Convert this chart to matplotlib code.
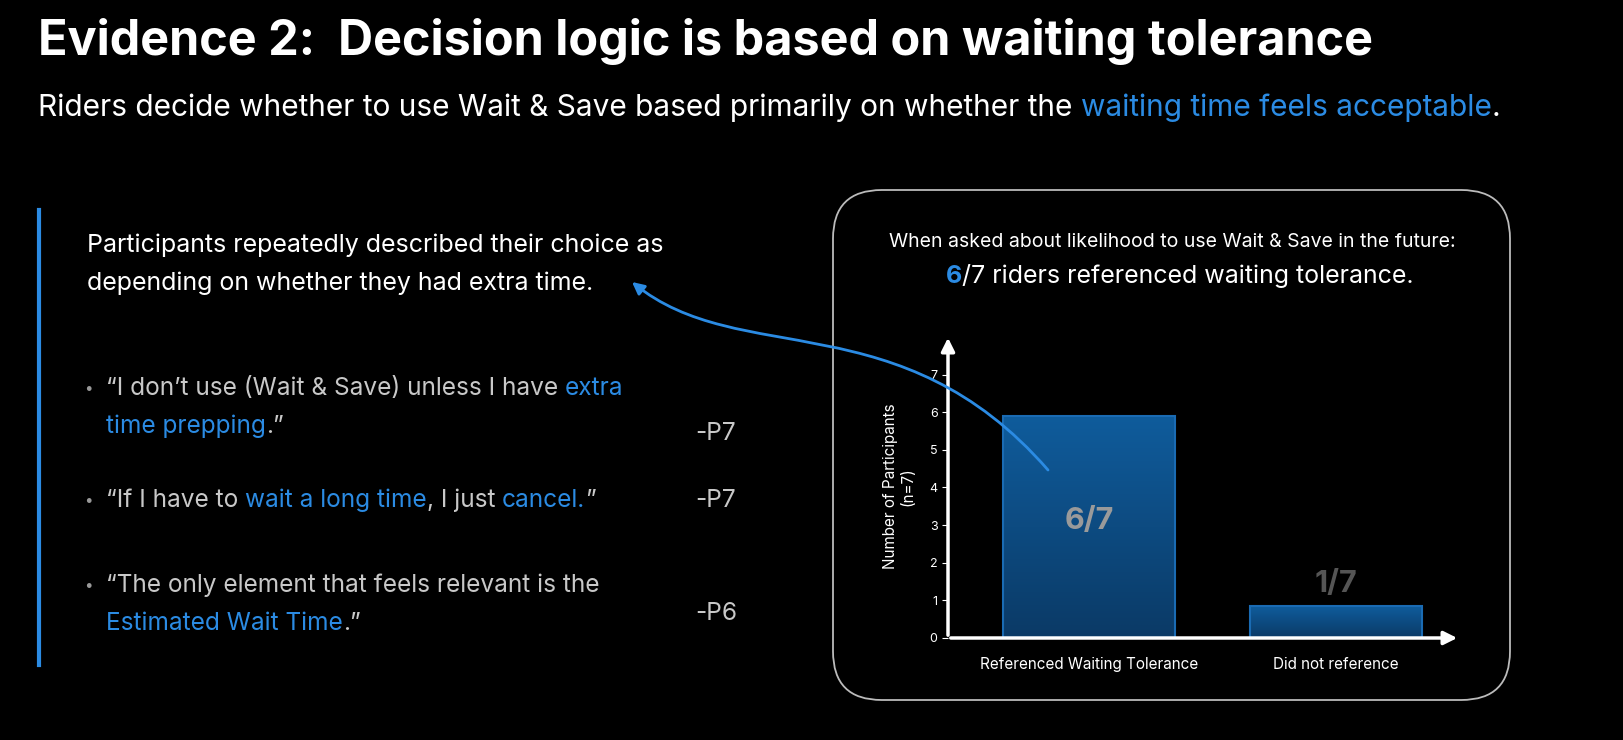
import numpy as np
import matplotlib
matplotlib.use('Agg')
from matplotlib import pyplot as plt
from matplotlib.patches import FancyBboxPatch, FancyArrowPatch
from matplotlib.path import Path

categories = ['Referenced Waiting Tolerance', 'Did not reference']
counts = [5.9, 0.85]
bar_labels = ['6/7', '1/7']
yticks = [0, 1, 2, 3, 4, 5, 6, 7]

BLUE = '#2b8be3'
GREY = '#c8c8c8'
plt.rcParams['font.family'] = ['Inter', 'DejaVu Sans']

W, H = 1624, 740
fig = plt.figure(figsize=(W / 100, H / 100), dpi=100, facecolor='black')
canvas_r = fig.canvas.get_renderer()


def px(x, y):
    return x / W, 1 - y / H


def rich(x, y, parts, size, weight='normal'):
    # draw text segments of different colours one after another
    fx, fy = px(x, y)
    for s, c in parts:
        t = fig.text(fx, fy, s, color=c, fontsize=size, weight=weight, va='baseline', zorder=6)
        bb = t.get_window_extent(canvas_r)
        fx += bb.width / W


rich(38, 55, [('Evidence 2:  Decision logic is based on waiting tolerance', 'white')], 35, 'bold')
rich(38, 116, [('Riders decide whether to use Wait & Save based primarily on whether the ', 'white'),
               ('waiting time feels acceptable', BLUE), ('.', 'white')], 21.5)

# left accent line
fig.add_artist(plt.Line2D([39 / W, 39 / W], [1 - 210 / H, 1 - 665 / H], color=BLUE, lw=3))

rich(87, 252, [('Participants repeatedly described their choice as', 'white')], 18)
rich(87, 290, [('depending on whether they had extra time.', 'white')], 18)

bullets = [
    (395, [('\u201cI don\u2019t use (Wait & Save) unless I have ', GREY), ('extra', BLUE)], '-P7', 440),
    (433, [('time prepping', BLUE), ('.\u201d', GREY)], None, None),
    (507, [('\u201cIf I have to ', GREY), ('wait a long time', BLUE), (', I just ', GREY), ('cancel.', BLUE), ('\u201d', GREY)], '-P7', 507),
    (592, [('\u201cThe only element that feels relevant is the', GREY)], '-P6', 620),
    (630, [('Estimated Wait Time', BLUE), ('.\u201d', GREY)], None, None),
]
for y, parts, who, wy in bullets:
    if parts[0][0].startswith('\u201c'):
        fig.text(*px(84, y - 2), '\u2022', color='#999999', fontsize=11, va='baseline')
    rich(106, y, parts, 17.6)
    if who:
        fig.text(*px(695, wy), who, color=GREY, fontsize=17.6, va='baseline')

# rounded box (behind the chart)
box = FancyBboxPatch(px(833, 700), 677 / W, 510 / H, boxstyle='round,pad=0,rounding_size=0.03',
                     transform=fig.transFigure, fc='none', ec='#bbbbbb', lw=1.3,
                     mutation_aspect=W / H, zorder=0)
fig.add_artist(box)
fig.text(*px(1172, 247), 'When asked about likelihood to use Wait & Save in the future:', color='white',
         fontsize=14, ha='center', va='baseline')
fig.text(*px(946, 283), '6', color=BLUE, fontsize=18, weight='bold', va='baseline')
rich(962, 283, [('/7 riders referenced waiting tolerance.', 'white')], 18)

# bar chart
ax = fig.add_axes([948 / W, 1 - 638 / H, 512 / W, 303 / H], zorder=3)
ax.patch.set_alpha(0)
x = np.arange(len(categories))
grad = np.linspace(0, 1, 256).reshape(-1, 1)
cmap = matplotlib.colors.LinearSegmentedColormap.from_list('b', ['#0b3a66', '#0f5c9c'])
bars = ax.bar(x, counts, width=0.7, color='none', edgecolor='#1a6bb3', lw=1.5, zorder=3)
for b in bars:
    im = ax.imshow(grad, extent=[b.get_x(), b.get_x() + b.get_width(), 0, b.get_height()],
                   origin='lower', cmap=cmap, aspect='auto', zorder=2)
    im.set_clip_path(b)
ax.set_xlim(-0.571, 1.502)
ax.set_ylim(0, 8.05)
ax.text(x[0], 3.1, bar_labels[0], color='#9a9a9a', fontsize=22, weight='bold', ha='center', va='center', zorder=4)
ax.text(x[1], 1.05, bar_labels[1], color='#555555', fontsize=22, weight='bold', ha='center', va='bottom', zorder=4)
ax.set_yticks(yticks)
ax.set_xticks(x)
ax.set_xticklabels(categories, color='white', fontsize=11)
ax.tick_params(axis='y', colors='white', labelsize=9, length=4)
ax.tick_params(axis='x', length=0, pad=14)
for s in ax.spines.values():
    s.set_visible(False)
ax.annotate('', xy=(0, 1), xytext=(0, 0), xycoords='axes fraction',
            arrowprops=dict(arrowstyle='-|>', color='white', lw=2.5, mutation_scale=20))
ax.annotate('', xy=(1, 0), xytext=(0, 0), xycoords='axes fraction',
            arrowprops=dict(arrowstyle='-|>', color='white', lw=2.5, mutation_scale=20))
ax.set_ylabel('Number of Participants\n(n=7)', color='white', fontsize=11, labelpad=10)

# curved arrow from bar to the text
pts = [px(1048, 470), px(900, 300), px(740, 370), px(632, 282)]
path = Path(pts, [Path.MOVETO, Path.CURVE4, Path.CURVE4, Path.CURVE4])
fig.add_artist(FancyArrowPatch(path=path, transform=fig.transFigure, arrowstyle='-|>',
                               color=BLUE, lw=2, mutation_scale=18, zorder=5))

fig.savefig('out.png', dpi=100, facecolor='black')
